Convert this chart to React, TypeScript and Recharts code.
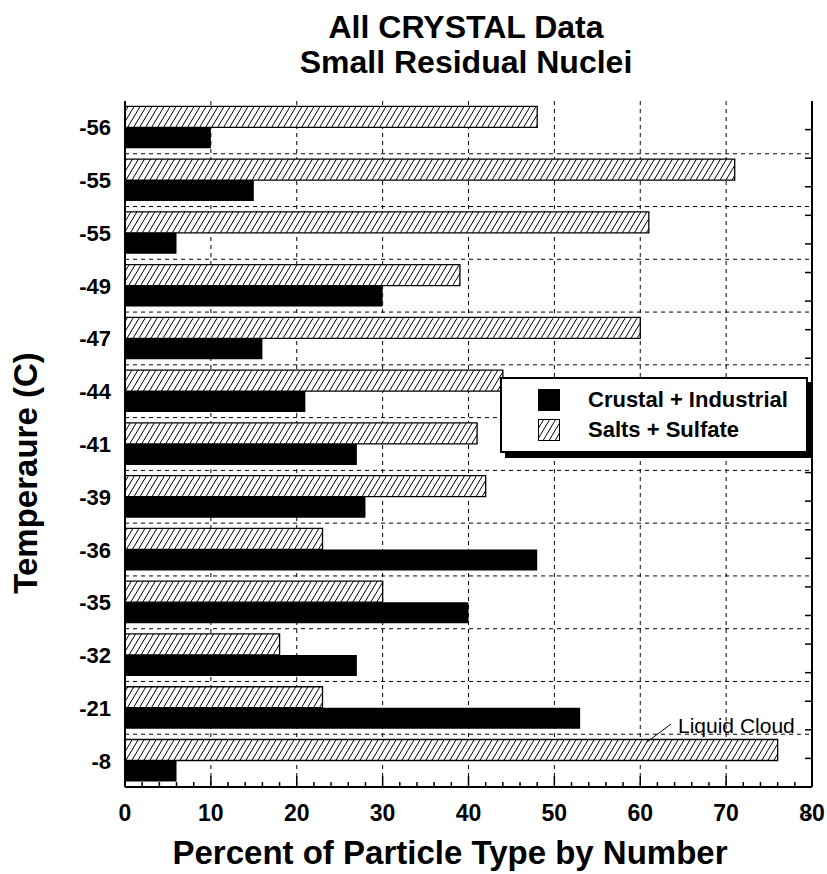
import React from "react";
import { BarChart, Bar, XAxis, YAxis, CartesianGrid } from "recharts";

// Temperature classes, top to bottom (the -55 class appears twice in the original)
const temperatures = ["-56", "-55", "-55", "-49", "-47", "-44", "-41", "-39", "-36", "-35", "-32", "-21", "-8"];
// percent of particle type by number
const crustalIndustrial = [10, 15, 6, 30, 16, 21, 27, 28, 48, 40, 27, 53, 6];
const saltsSulfate = [48, 71, 61, 39, 60, 44, 41, 42, 23, 30, 18, 23, 76];

const percentTicks = [0, 2, 4, 6, 8, 10, 12, 14, 16, 18, 20, 22, 24, 26, 28, 30, 32, 34, 36, 38, 40, 42, 44, 46, 48, 50, 52, 54, 56, 58, 60, 62, 64, 66, 68, 70, 72, 74, 76, 78, 80];
const percentGrid = [10, 20, 30, 40, 50, 60, 70];
const bandEdges = [1, 2, 3, 4, 5, 6, 7, 8, 9, 10, 11, 12];
const bandTicks = [0.5, 1, 1.5, 2, 2.5, 3, 3.5, 4, 4.5, 5, 5.5, 6, 6.5, 7, 7.5, 8, 8.5, 9, 9.5, 10, 10.5, 11, 11.5, 12, 12.5];

const FONT = '"Liberation Sans", Arial, Helvetica, sans-serif';

const data = temperatures.map((t, i) => ({
  id: i,
  temp: t,
  crustal: crustalIndustrial[i],
  salts: saltsSulfate[i],
}));

// bottom axis: ticks point inwards, labels only at every 10
const BottomTick = (props: any) => {
  const { x, y, payload } = props;
  const v = payload.value;
  const major = v % 10 === 0;
  return (
    <g>
      <line x1={x} x2={x} y1={y} y2={y - (major ? 11 : 5)} stroke="#000" strokeWidth={1.5} />
      {major && (
        <text x={x} y={y + 34} textAnchor="middle" fontSize={23} fontWeight="bold" fill="#000" fontFamily={FONT}>
          {v}
        </text>
      )}
    </g>
  );
};

const TopTick = (props: any) => {
  const { x, y, payload } = props;
  const major = payload.value % 10 === 0;
  return <line x1={x} x2={x} y1={y} y2={y + (major ? 11 : 5)} stroke="#000" strokeWidth={1.5} />;
};

const RightTick = (props: any) => {
  const { x, y } = props;
  return <line x1={x} x2={x - 7} y1={y} y2={y} stroke="#000" strokeWidth={1.5} />;
};

const TempTick = (props: any) => {
  const { x, y, payload } = props;
  return (
    <text x={x} y={y + 8} textAnchor="end" fontSize={22} fontWeight="bold" fill="#000" fontFamily={FONT}>
      {temperatures[payload.value]}
    </text>
  );
};

// vertical grid at 10..70, horizontal grid between the temperature classes
const vGen = (p: any) =>
  percentGrid.map((v) =>
    p.xAxis && typeof p.xAxis.scale === "function" ? p.xAxis.scale(v) : p.offset.left + (p.offset.width * v) / 80
  );
const hGen = (p: any) =>
  bandEdges.map((v) =>
    p.yAxis && typeof p.yAxis.scale === "function" ? p.yAxis.scale(v) : p.offset.top + (p.offset.height * v) / 13
  );

export default function App() {
  return (
    <div style={{ position: "relative", width: 827, height: 874, fontFamily: FONT, background: "#fff" }}>
      <style>{`body{margin:0}`}</style>
      <BarChart
        width={827}
        height={874}
        data={data}
        layout="vertical"
        margin={{ top: 101, right: 0, bottom: 0, left: 0 }}
        barCategoryGap="10%"
        barGap={0}
      >
        <defs>
          <pattern id="hatch" patternUnits="userSpaceOnUse" width={6} height={10}>
            <rect width={6} height={10} fill="#fff" />
            <path d="M0,10 L6,0 M-1,1.67 L1,-1.67 M5,11.67 L7,8.33" stroke="#000" strokeWidth={1} />
          </pattern>
        </defs>
        <CartesianGrid
          xAxisId="x"
          yAxisId="grid"
          stroke="#000"
          strokeDasharray="4 4"
          verticalCoordinatesGenerator={vGen}
          horizontalCoordinatesGenerator={hGen}
        />
        <XAxis
          xAxisId="x"
          type="number"
          domain={[0, 80]}
          ticks={percentTicks}
          interval={0}
          height={87}
          tickSize={0}
          tickMargin={0}
          tickLine={false}
          tick={<BottomTick />}
          axisLine={{ stroke: "#000", strokeWidth: 2 }}
        />
        <XAxis
          xAxisId="top"
          orientation="top"
          type="number"
          domain={[0, 80]}
          ticks={percentTicks}
          interval={0}
          height={0}
          tickSize={0}
          tickMargin={0}
          tickLine={false}
          tick={<TopTick />}
          axisLine={{ stroke: "#000", strokeWidth: 2 }}
        />
        <YAxis
          yAxisId="cat"
          type="category"
          dataKey="id"
          width={125}
          interval={0}
          tickSize={0}
          tickMargin={14}
          tickLine={false}
          tick={<TempTick />}
          axisLine={{ stroke: "#000", strokeWidth: 2 }}
        />
        <YAxis
          yAxisId="grid"
          orientation="right"
          type="number"
          domain={[0, 13]}
          ticks={bandTicks}
          interval={0}
          width={15}
          tickSize={0}
          tickMargin={0}
          tickLine={false}
          tick={<RightTick />}
          axisLine={{ stroke: "#000", strokeWidth: 2 }}
        />
        <Bar
          xAxisId="x"
          yAxisId="cat"
          dataKey="salts"
          name="Salts + Sulfate"
          fill="url(#hatch)"
          stroke="#000"
          strokeWidth={1.3}
          isAnimationActive={false}
        />
        <Bar
          xAxisId="x"
          yAxisId="cat"
          dataKey="crustal"
          name="Crustal + Industrial"
          fill="#000"
          isAnimationActive={false}
        />
      </BarChart>

      {/* titles and annotation */}
      <svg width={827} height={874} style={{ position: "absolute", left: 0, top: 0, pointerEvents: "none" }}>
        <g fontFamily={FONT} fontWeight="bold" fill="#000" textAnchor="middle">
          <text x={466} y={38} fontSize={32}>All CRYSTAL Data</text>
          <text x={466} y={73} fontSize={32}>Small Residual Nuclei</text>
          <text x={450} y={864} fontSize={33}>Percent of Particle Type by Number</text>
          <text x={37} y={473} fontSize={33} transform="rotate(-90 37 473)">Temperaure (C)</text>
        </g>
        <line x1={647} y1={742} x2={671} y2={724} stroke="#000" strokeWidth={1} />
        <text x={678} y={733} fontFamily={FONT} fontSize={21} fill="#000">Liquid Cloud</text>
      </svg>

      {/* legend */}
      <div
        style={{
          position: "absolute",
          left: 500,
          top: 377,
          width: 304,
          height: 72,
          border: "2px solid #000",
          background: "#fff",
          boxShadow: "5px 5px 0 #000",
        }}
      >
        <div style={{ position: "absolute", left: 36, top: 10, width: 22, height: 22, background: "#000" }} />
        <div style={{ position: "absolute", left: 86, top: 6, fontSize: 22, fontWeight: "bold", lineHeight: "30px" }}>
          Crustal + Industrial
        </div>
        <svg width={22} height={22} style={{ position: "absolute", left: 36, top: 40 }}>
          <defs>
            <pattern id="hatchLegend" patternUnits="userSpaceOnUse" width={6} height={10}>
              <rect width={6} height={10} fill="#fff" />
              <path d="M0,10 L6,0 M-1,1.67 L1,-1.67 M5,11.67 L7,8.33" stroke="#000" strokeWidth={1} />
            </pattern>
          </defs>
          <rect x={0.5} y={0.5} width={21} height={21} fill="url(#hatchLegend)" stroke="#000" strokeWidth={1} />
        </svg>
        <div style={{ position: "absolute", left: 86, top: 36, fontSize: 22, fontWeight: "bold", lineHeight: "30px" }}>
          Salts + Sulfate
        </div>
      </div>
    </div>
  );
}
